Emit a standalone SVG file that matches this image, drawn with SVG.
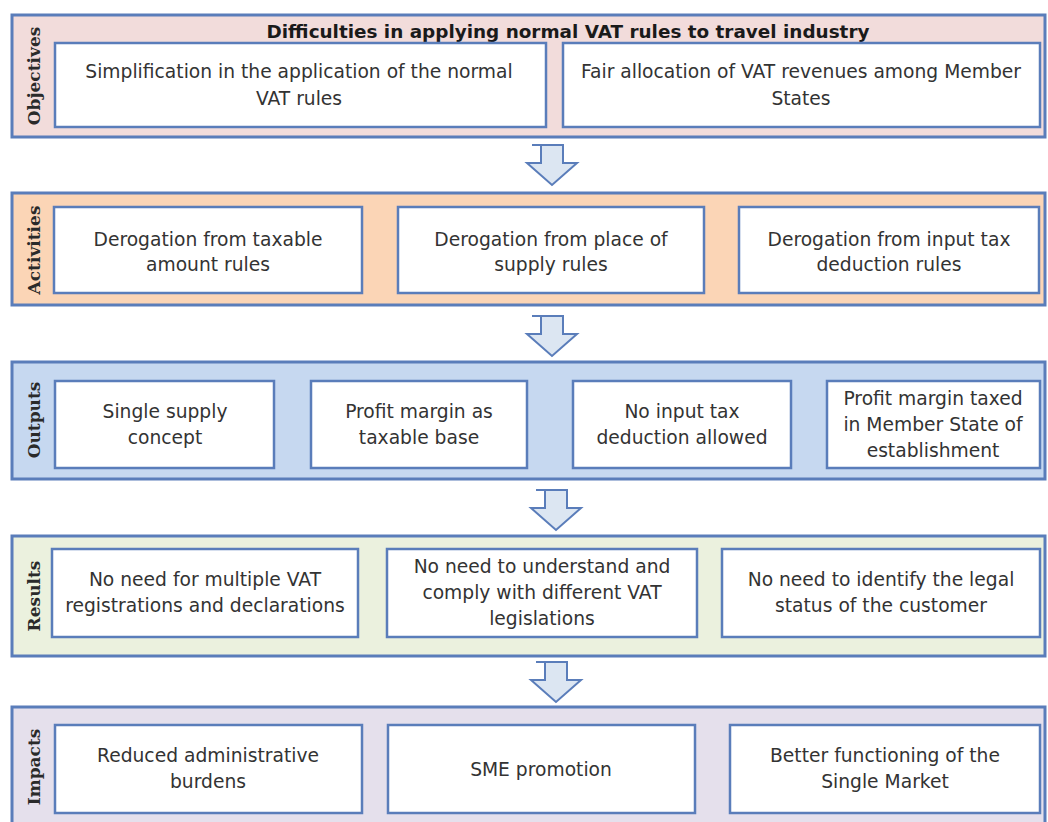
<svg xmlns="http://www.w3.org/2000/svg" width="1048" height="822" viewBox="0 0 1048 822">
<style>
.band{stroke:#5a7dba;stroke-width:3}
.box{fill:#ffffff;stroke:#5a7dba;stroke-width:2.5}
.t{font-family:"DejaVu Sans","Liberation Sans",sans-serif;font-size:18.7px;fill:#333333;text-anchor:middle}
.title{font-family:"DejaVu Sans","Liberation Sans",sans-serif;font-size:18.4px;font-weight:bold;fill:#1a1a1a;text-anchor:middle}
.side{font-family:"DejaVu Serif","Liberation Serif",serif;font-size:17px;font-weight:bold;fill:#2a2a2a;text-anchor:middle}
.arr{fill:#dce6f2;stroke:#5a7dba;stroke-width:2;stroke-linejoin:miter}
</style>
<defs>
<path id="arrow" d="M-20,0 H11 V18 H25 L0,40 L-25,18 H-11 V0 Z"/>
</defs>
<rect width="1048" height="822" fill="#ffffff"/>

<g id="objectives">
<rect class="band" x="12" y="15" width="1033" height="122" fill="#f2dcdb"/>
<text class="title" x="568" y="38">Difficulties in applying normal VAT rules to travel industry</text>
<text class="side" transform="translate(40,76) rotate(-90)">Objectives</text>
<g id="obj1"><rect class="box" x="55" y="43" width="491" height="84"/>
<text class="t" x="299" y="78">Simplification in the application of the normal</text>
<text class="t" x="299" y="105">VAT rules</text></g>
<g id="obj2"><rect class="box" x="563" y="43" width="477" height="84"/>
<text class="t" x="801" y="78">Fair allocation of VAT revenues among Member</text>
<text class="t" x="801" y="105">States</text></g>
</g>

<g id="activities">
<rect class="band" x="12" y="193" width="1033" height="112" fill="#fbd5b6"/>
<text class="side" transform="translate(40,250) rotate(-90)">Activities</text>
<g id="act1"><rect class="box" x="54" y="207" width="308" height="86"/>
<text class="t" x="208" y="246">Derogation from taxable</text>
<text class="t" x="208" y="271">amount rules</text></g>
<g id="act2"><rect class="box" x="398" y="207" width="306" height="86"/>
<text class="t" x="551" y="246">Derogation from place of</text>
<text class="t" x="551" y="271">supply rules</text></g>
<g id="act3"><rect class="box" x="739" y="207" width="300" height="86"/>
<text class="t" x="889" y="246">Derogation from input tax</text>
<text class="t" x="889" y="271">deduction rules</text></g>
</g>

<g id="outputs">
<rect class="band" x="12" y="362" width="1033" height="117" fill="#c6d8f0"/>
<text class="side" transform="translate(40,420) rotate(-90)">Outputs</text>
<g id="out1"><rect class="box" x="55" y="381" width="219" height="87"/>
<text class="t" x="165" y="418">Single supply</text>
<text class="t" x="165" y="444">concept</text></g>
<g id="out2"><rect class="box" x="311" y="381" width="216" height="87"/>
<text class="t" x="419" y="418">Profit margin as</text>
<text class="t" x="419" y="444">taxable base</text></g>
<g id="out3"><rect class="box" x="573" y="381" width="218" height="87"/>
<text class="t" x="682" y="418">No input tax</text>
<text class="t" x="682" y="444">deduction allowed</text></g>
<g id="out4"><rect class="box" x="827" y="381" width="213" height="87"/>
<text class="t" x="933" y="405">Profit margin taxed</text>
<text class="t" x="933" y="431">in Member State of</text>
<text class="t" x="933" y="457">establishment</text></g>
</g>

<g id="results">
<rect class="band" x="12" y="536" width="1033" height="120" fill="#ebf1de"/>
<text class="side" transform="translate(40,596) rotate(-90)">Results</text>
<g id="res1"><rect class="box" x="52" y="549" width="306" height="88"/>
<text class="t" x="205" y="586">No need for multiple VAT</text>
<text class="t" x="205" y="612">registrations and declarations</text></g>
<g id="res2"><rect class="box" x="387" y="549" width="310" height="88"/>
<text class="t" x="542" y="573">No need to understand and</text>
<text class="t" x="542" y="599">comply with different VAT</text>
<text class="t" x="542" y="625">legislations</text></g>
<g id="res3"><rect class="box" x="722" y="549" width="318" height="88"/>
<text class="t" x="881" y="586">No need to identify the legal</text>
<text class="t" x="881" y="612">status of the customer</text></g>
</g>

<g id="impacts">
<rect class="band" x="12" y="707" width="1033" height="130" fill="#e5e0ec"/>
<text class="side" transform="translate(40,767) rotate(-90)">Impacts</text>
<g id="imp1"><rect class="box" x="55" y="725" width="307" height="88"/>
<text class="t" x="208" y="762">Reduced administrative</text>
<text class="t" x="208" y="788">burdens</text></g>
<g id="imp2"><rect class="box" x="388" y="725" width="307" height="88"/>
<text class="t" x="541" y="776">SME promotion</text></g>
<g id="imp3"><rect class="box" x="730" y="725" width="310" height="88"/>
<text class="t" x="885" y="762">Better functioning of the</text>
<text class="t" x="885" y="788">Single Market</text></g>
</g>

<g id="connectors">
<use href="#arrow" class="arr" transform="translate(552,145)"/>
<use href="#arrow" class="arr" transform="translate(552,316)"/>
<use href="#arrow" class="arr" transform="translate(556,490)"/>
<use href="#arrow" class="arr" transform="translate(556,662)"/>
</g>
</svg>
